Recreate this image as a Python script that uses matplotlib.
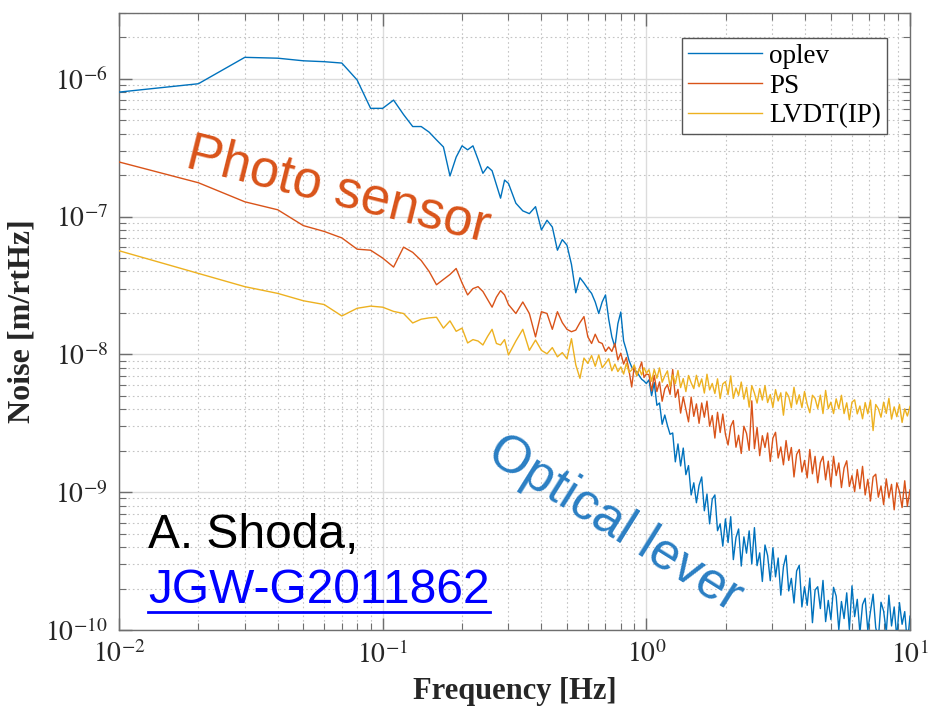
import numpy as np
import matplotlib
matplotlib.use("Agg")
import matplotlib.pyplot as plt
from matplotlib.lines import Line2D
from matplotlib.ticker import LogLocator, NullFormatter

plt.rcParams['mathtext.fontset'] = 'stix'
plt.rcParams['font.family'] = ['Liberation Serif', 'DejaVu Serif']

# ---------------- data (values in nm/rtHz = 1e-9 m/rtHz) ----------------
# frequency grid [Hz]
freq_low = [round(0.01 * k, 2) for k in range(1, 31)]          # 0.01 .. 0.30
freq_mid = [round(0.02 * k, 2) for k in range(16, 51)]         # 0.32 .. 1.00
freq_high = [round(10 ** (k / 100), 4) for k in range(1, 101)]  # 1.02 .. 10

oplev_low = [800, 920, 1430, 1410, 1350, 1330, 1300, 980, 610, 610,
             700, 550, 450, 450, 410, 360, 320, 197, 270, 326,
             305, 326, 260, 206, 230, 215, 170, 136, 184, 174]
oplev_mid = [125, 110, 105, 118, 80, 94, 84, 57, 68, 62,
             45, 28, 36, 33, 30, 27.7, 24, 19.8, 24, 27,
             18, 13.4, 11.3, 16.7, 20.3, 12.5, 10.7, 9.0, 8.1, 7.6,
             7.5, 7.0, 6.6, 6.4, 6.15]
oplev_high = [6.53, 5.01, 6.24, 4.27, 4.44, 3.11, 3.63, 3.05, 2.63, 2.69,
              1.66, 2.24, 1.55, 2.09, 1.34, 1.56, 0.955, 1.17, 0.838, 1.12,
              1.29, 0.733, 0.97, 0.589, 0.891, 0.955, 0.525, 0.589, 0.406, 0.64,
              0.431, 0.664, 0.324, 0.469, 0.541, 0.291, 0.474, 0.361, 0.524, 0.302,
              0.553, 0.293, 0.363, 0.225, 0.414, 0.347, 0.228, 0.395, 0.243, 0.333,
              0.179, 0.288, 0.348, 0.192, 0.237, 0.157, 0.268, 0.295, 0.147, 0.206,
              0.151, 0.238, 0.113, 0.195, 0.206, 0.143, 0.229, 0.115, 0.164, 0.119,
              0.204, 0.176, 0.1005, 0.161, 0.121, 0.186, 0.101, 0.209, 0.125, 0.167,
              0.095, 0.153, 0.17, 0.0993, 0.136, 0.182, 0.104, 0.0861, 0.159, 0.137,
              0.0966, 0.179, 0.107, 0.147, 0.0877, 0.158, 0.11, 0.136, 0.0791, 0.126]

ps_low = [249, 176, 128, 112, 86, 78, 70, 58, 57, 50,
          43, 60, 55, 48, 40, 32, 35, 38, 42, 33,
          27, 30, 31, 28.6, 25, 22, 26, 29, 27, 23]
ps_mid = [19.8, 24, 19.8, 13.4, 20.4, 19.8, 15.2, 20.4, 17, 15.2,
          14.6, 15, 17, 18.8, 13.4, 12, 14, 12.3, 12, 10.5,
          11.3, 10.5, 12, 9.1, 10.2, 8.5, 9.5, 7.6, 5.8, 8.2,
          7.0, 7.8, 8.8, 6.8, 7.2]
ps_high = [7.12, 5.43, 7.05, 5.37, 6.31, 4.57, 5.62, 6.03, 5.13, 7.76,
           4.88, 5.57, 3.75, 4.92, 3.98, 3.24, 4.9, 3.55, 4.37, 3.16,
           4.44, 3.5, 4.58, 3.01, 3.6, 2.47, 3.8, 2.71, 3.69, 2.63,
           2.2, 3.0, 3.31, 2.12, 2.59, 1.91, 3.01, 2.67, 2.01, 4.6,
           2.07, 2.95, 1.84, 2.57, 2.11, 2.69, 1.67, 2.47, 2.72, 1.77,
           2.13, 1.58, 2.37, 1.7, 2.11, 1.29, 1.88, 2.04, 1.4, 1.7,
           1.27, 2.04, 1.36, 1.82, 1.17, 1.64, 1.82, 1.23, 1.68, 1.1,
           1.82, 1.32, 1.63, 1.08, 1.5, 1.69, 1.1, 1.32, 1.01, 1.46,
           1.06, 1.54, 0.955, 1.24, 0.863, 1.29, 1.35, 0.92, 1.11, 0.813,
           1.25, 0.914, 1.14, 0.745, 1.17, 1.01, 0.774, 1.21, 0.793, 1.04]

lvdt_low = [56.5, 38.7, 31, 27.7, 24.5, 23, 19, 21.6, 22.4, 22,
            20.5, 19.8, 16.9, 18, 18.4, 18.6, 15.5, 17.5, 14.7, 15.5,
            12.1, 12.8, 12.5, 11.7, 13.5, 15.2, 12, 11.7, 12.8, 9.9]
lvdt_mid = [12.5, 15.2, 10.7, 12.7, 10.7, 10.1, 11.2, 9.6, 10.3, 9.3,
            13.0, 8.4, 6.7, 9.4, 8.6, 9.8, 8.2, 9.9, 8.0, 8.6,
            9.3, 7.6, 8.5, 7.5, 8.1, 7.2, 8.6, 7.4, 7.7, 8.4,
            7.0, 7.9, 7.1, 8.0, 7.3]
lvdt_high = [7.74, 6.38, 7.78, 6.71, 7.98, 6.28, 6.98, 7.59, 5.83, 7.1,
             6.12, 7.64, 5.74, 6.67, 5.37, 7.03, 6.22, 5.64, 7.05, 5.82,
             6.64, 5.24, 7.18, 5.52, 6.15, 5.2, 6.65, 4.78, 6.1, 6.34,
             5.11, 6.98, 4.79, 5.7, 5.04, 6.3, 4.73, 5.77, 4.14, 5.93,
             5.24, 4.43, 5.65, 4.66, 5.94, 4.47, 5.11, 4.13, 5.55, 4.59,
             5.26, 3.62, 5.33, 4.95, 4.1, 5.77, 4.36, 5.09, 4.11, 5.38,
             4.35, 3.77, 5.05, 4.79, 4.05, 5.06, 3.72, 5.48, 4.04, 4.5,
             3.72, 4.76, 4.03, 5.05, 3.72, 4.45, 3.35, 4.5, 4.68, 3.7,
             4.22, 3.41, 4.47, 3.71, 4.66, 2.8, 4.33, 4.03, 3.5, 4.5,
             3.73, 4.8, 3.39, 4.16, 3.53, 4.34, 3.21, 4.03, 3.57, 4.19]

series_names = ['oplev', 'PS', 'LVDT(IP)']
x_ticks = [1e-2, 1e-1, 1e0, 1e1]
x_tick_labels = [r'$10^{-2}$', r'$10^{-1}$', r'$10^{0}$', r'$10^{1}$']
y_ticks = [1e-10, 1e-9, 1e-8, 1e-7, 1e-6]
y_tick_labels = [r'$10^{-10}$', r'$10^{-9}$', r'$10^{-8}$', r'$10^{-7}$', r'$10^{-6}$']

# ---------------- plot ----------------
freq = np.array(freq_low + freq_mid + freq_high)
scale = 1e-9
oplev = np.array(oplev_low + oplev_mid + oplev_high) * scale
ps = np.array(ps_low + ps_mid + ps_high) * scale
lvdt = np.array(lvdt_low + lvdt_mid + lvdt_high) * scale

c_blue = '#0072BD'
c_red = '#D95319'
c_yel = '#EDB120'

fig = plt.figure(figsize=(9.3, 7.23), dpi=100)
ax = fig.add_axes([119 / 930, 93 / 723, 791 / 930, 617 / 723])

ax.plot(freq, oplev, color=c_blue, lw=1.0, label=series_names[0], zorder=3)
ax.plot(freq, ps, color=c_red, lw=1.0, label=series_names[1], zorder=3)
ax.plot(freq, lvdt, color=c_yel, lw=1.0, label=series_names[2], zorder=3)

ax.set_xscale('log')
ax.set_yscale('log')
ax.set_xlim(1e-2, 1e1)
ax.set_ylim(1e-10, 3e-6)

ax.set_xticks(x_ticks)
ax.set_xticklabels(x_tick_labels, fontsize=20)
ax.set_yticks(y_ticks)
ax.set_yticklabels(y_tick_labels, fontsize=20)
ax.xaxis.set_minor_locator(LogLocator(base=10, subs=np.arange(2, 10)))
ax.yaxis.set_minor_locator(LogLocator(base=10, subs=np.arange(2, 10)))
ax.xaxis.set_minor_formatter(NullFormatter())
ax.yaxis.set_minor_formatter(NullFormatter())

spine_c = '#6e6e6e'
for s in ax.spines.values():
    s.set_color(spine_c)
    s.set_linewidth(1.0)
ax.tick_params(which='both', direction='in', top=True, right=True, color=spine_c)
ax.tick_params(which='major', length=9, width=1.0, pad=8, labelcolor='#262626')
ax.tick_params(which='minor', length=5, width=0.8)

ax.grid(True, which='major', color='#dcdcdc', lw=1.0, ls='-', zorder=0)
ax.grid(True, which='minor', color='#c4c4c4', lw=0.8, ls=(0, (1.5, 2.5)), zorder=0)
ax.set_axisbelow(True)

ax.set_xlabel('Frequency [Hz]', fontsize=22, fontweight='bold', color='#262626', labelpad=6)
ax.set_ylabel('Noise [m/rtHz]', fontsize=23, fontweight='bold', color='#262626', labelpad=6)

leg = ax.legend(loc='upper right', bbox_to_anchor=(0.971, 0.9595), borderaxespad=0,
                fontsize=19.5, frameon=True, fancybox=False, framealpha=1,
                edgecolor='#555555', handlelength=2.75, handletextpad=0.25,
                labelspacing=0.17, borderpad=0.22)
leg.get_frame().set_linewidth(1.0)

sans = ['Liberation Sans', 'DejaVu Sans']
ax.text(0.277, 0.713, 'Photo sensor', transform=ax.transAxes, fontsize=38,
        family=sans, color='#D95319', rotation=-14, ha='center', va='center',
        rotation_mode='anchor', zorder=5)
ax.text(0.627, 0.172, 'Optical lever', transform=ax.transAxes, fontsize=37.5,
        family=sans, color='#2a7ec3', rotation=-32, ha='center', va='center',
        rotation_mode='anchor', zorder=5)
ax.text(29 / 791, (630 - 548) / 617, 'A. Shoda,', transform=ax.transAxes, fontsize=34.5,
        family=sans, color='black', ha='left', va='baseline', zorder=5)
link = ax.text(29 / 791, (630 - 603) / 617, 'JGW-G2011862', transform=ax.transAxes,
               fontsize=34.5, family=sans, color='#0000ff', ha='left', va='baseline', zorder=5)

fig.canvas.draw()
bb = link.get_window_extent()
y_ul = (723 - 611.5) / 723
fig.add_artist(Line2D([bb.x0 / fig.bbox.width, bb.x1 / fig.bbox.width], [y_ul, y_ul],
                      transform=fig.transFigure, color='#0000ff', lw=2.0))

fig.savefig('out.png', dpi=100)
